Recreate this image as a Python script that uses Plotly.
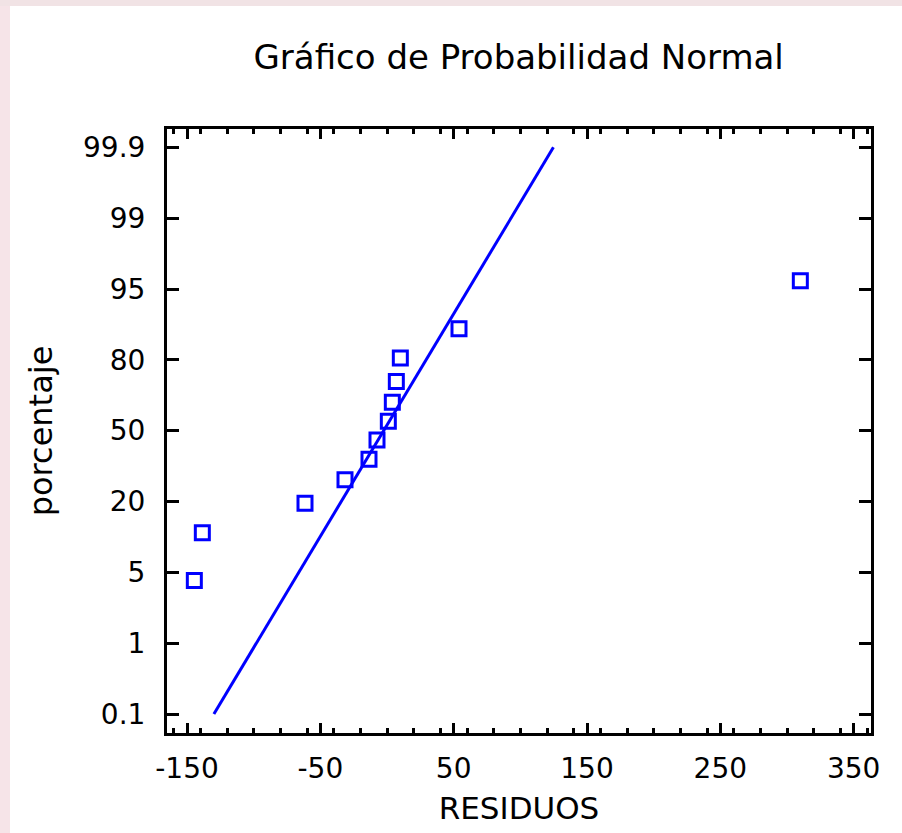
import plotly.graph_objects as go
from statistics import NormalDist

# ---- data ----
residuos = [-144.5, -138.5, -61.5, -31.5, -13.5, -7.5, 1.0, 4.0, 7.0, 10.0, 54.0, 310.0]
porcentaje = [5.1, 13.3, 21.4, 29.6, 37.8, 45.9, 54.1, 62.2, 70.4, 78.6, 86.7, 94.9]
line_loc = -2.5      # fitted normal line: location
line_scale = 41.2    # fitted normal line: scale
y_tick_labels = ["0.1", "1", "5", "20", "50", "80", "95", "99", "99.9"]
x_tick_vals = [-150, -50, 50, 150, 250, 350]
x_tick_labels = ["-150", "-50", "50", "150", "250", "350"]

nd = NormalDist()
z_pts = [nd.inv_cdf(p / 100.0) for p in porcentaje]
z_max = nd.inv_cdf(0.999)
n_lab = len(y_tick_labels)
y_tick_pos = [z_max * (2 * i / (n_lab - 1) - 1) for i in range(n_lab)]

line_z = [-z_max, z_max]
line_x = [line_loc + line_scale * z for z in line_z]

BLUE = "#0000ff"
FONT = "DejaVu Sans, Liberation Sans, Arial, sans-serif"

fig = go.Figure()
fig.add_trace(go.Scatter(x=line_x, y=line_z, mode="lines",
                         line=dict(color=BLUE, width=3), hoverinfo="skip"))
fig.add_trace(go.Scatter(x=residuos, y=z_pts, mode="markers",
                         marker=dict(symbol="square-open", size=14, color=BLUE,
                                     line=dict(color=BLUE, width=3))))

axis_common = dict(showgrid=False, zeroline=False, showline=True, linecolor="black",
                   linewidth=3, mirror="allticks", ticks="inside", tickcolor="black",
                   tickwidth=3, automargin=False,
                   tickfont=dict(family=FONT, size=28, color="black"))

fig.update_xaxes(range=[-165, 363], tickvals=x_tick_vals, ticktext=x_tick_labels, ticklen=10,
                 minor=dict(dtick=20, ticks="inside", ticklen=5, tickwidth=3, tickcolor="black"),
                 ticklabelstandoff=8,
                 title=dict(text="RESIDUOS", font=dict(family=FONT, size=31, color="black"), standoff=14),
                 **axis_common)
fig.update_yaxes(range=[-3.297, 3.29], tickvals=y_tick_pos, ticktext=y_tick_labels, ticklen=12,
                 ticklabelstandoff=13,
                 title=dict(text="porcentaje", font=dict(family=FONT, size=32, color="black"), standoff=21),
                 **axis_common)

fig.update_layout(
    width=902, height=833, showlegend=False,
    margin=dict(l=167, r=31, t=129, b=100, autoexpand=False),
    paper_bgcolor="white", plot_bgcolor="white",
    title=dict(text="Gráfico de Probabilidad Normal", x=0.575, xanchor="center",
               y=1 - 57 / 833, yanchor="middle",
               font=dict(family=FONT, size=34, color="black")),
    shapes=[
        dict(type="rect", xref="paper", yref="paper", x0=-167 / 704, x1=-157 / 704,
             y0=-100 / 604, y1=(604 + 129) / 604, fillcolor="#f6e4e8", line_width=0, layer="below"),
        dict(type="rect", xref="paper", yref="paper", x0=-167 / 704, x1=(704 + 31) / 704,
             y0=(604 + 123) / 604, y1=(604 + 129) / 604, fillcolor="#f1e3e5", line_width=0, layer="below"),
    ],
)

fig.write_html("out.html")
